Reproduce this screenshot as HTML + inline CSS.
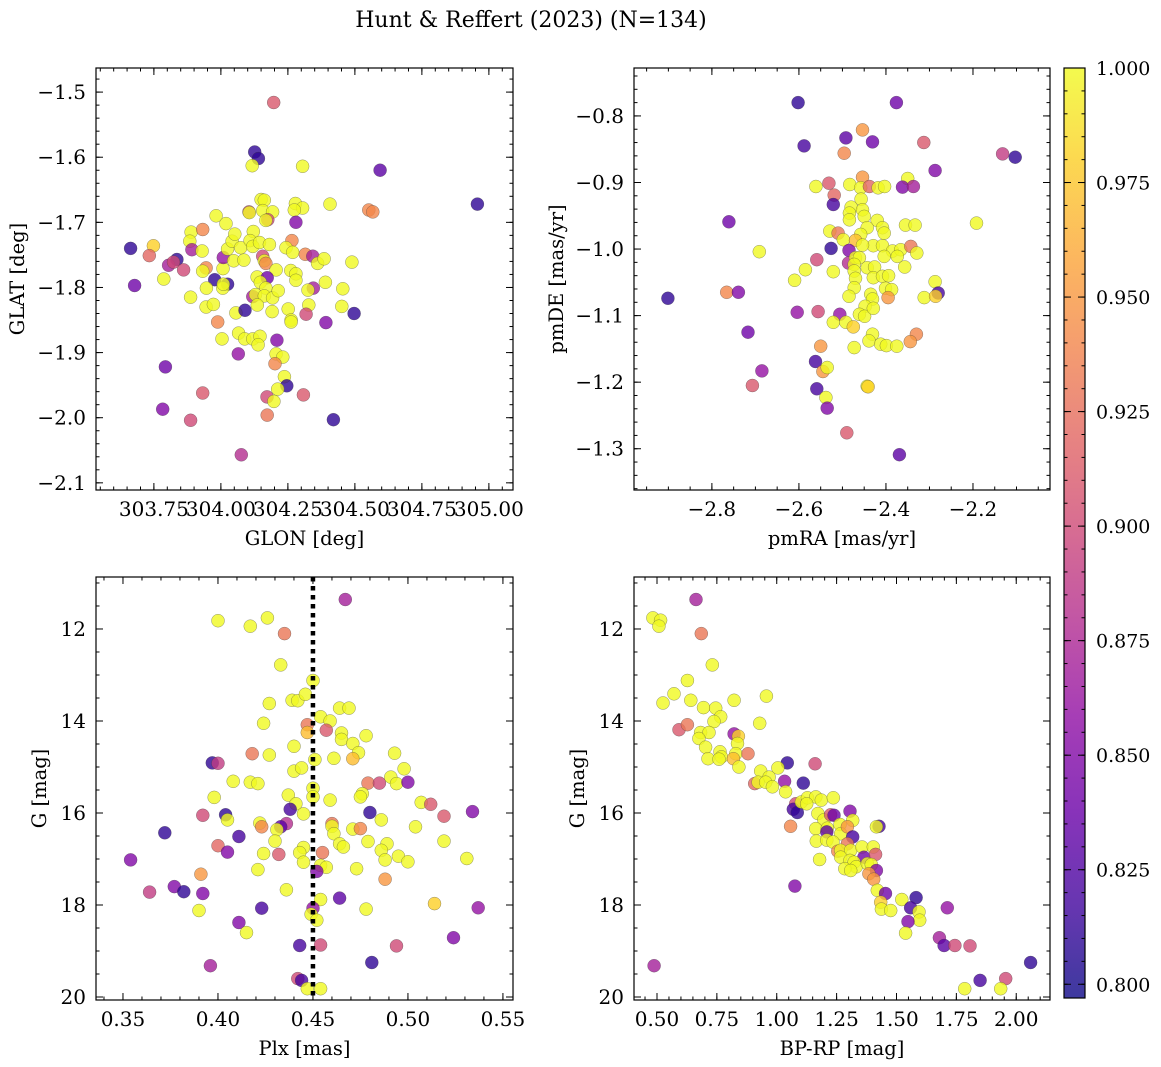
<!DOCTYPE html>
<html><head><meta charset="utf-8"><style>
html,body{margin:0;padding:0;background:#fff;}
svg{display:block;font-family:"DejaVu Serif","Liberation Serif",serif;}
</style></head><body>
<svg id="fig" width="1161" height="1067" viewBox="0 0 1161 1067" xmlns="http://www.w3.org/2000/svg">
<rect width="1161" height="1067" fill="#fff"/>
<text x="531" y="27" font-size="22" text-anchor="middle">Hunt &amp; Reffert (2023) (N=134)</text>
</svg>
<script>
// ---- Panel 1: GLON / GLAT ----
const p1Glon=[304.197,304.126,304.140,304.117,304.305,304.594,304.957,304.150,304.162,304.105,304.106,304.156,304.193,304.278,304.305,304.274,304.407,304.552,304.567,303.982,304.019,304.175,304.168,304.280,303.663,303.748,303.733,303.836,303.805,303.823,303.861,303.787,303.678,303.889,303.932,303.884,303.892,303.930,303.945,303.932,304.008,304.009,304.048,304.086,304.025,304.042,304.052,304.074,304.121,304.109,304.119,304.144,304.181,304.156,304.162,304.168,304.206,304.265,304.243,304.268,304.315,304.343,304.361,304.385,304.489,303.977,304.025,304.007,304.009,303.946,303.887,303.945,303.972,304.056,304.090,304.135,304.173,304.147,304.168,304.119,304.129,304.162,304.136,304.193,304.214,304.191,304.261,304.280,304.280,304.345,304.325,304.390,304.455,304.328,304.318,304.251,304.262,304.262,304.451,304.497,304.392,303.988,304.004,304.066,304.089,304.119,304.146,304.139,304.209,304.065,304.206,304.231,304.202,304.237,304.246,304.212,304.172,304.198,304.308,304.173,304.420,303.793,303.932,303.783,303.887,304.076];
const p1Glat=[-1.516,-1.592,-1.602,-1.613,-1.614,-1.620,-1.672,-1.665,-1.666,-1.684,-1.685,-1.682,-1.684,-1.671,-1.678,-1.681,-1.672,-1.681,-1.684,-1.690,-1.702,-1.696,-1.697,-1.700,-1.740,-1.736,-1.751,-1.757,-1.766,-1.761,-1.773,-1.787,-1.797,-1.715,-1.711,-1.729,-1.742,-1.744,-1.770,-1.775,-1.771,-1.754,-1.759,-1.758,-1.741,-1.729,-1.718,-1.739,-1.714,-1.728,-1.737,-1.731,-1.734,-1.752,-1.759,-1.763,-1.773,-1.728,-1.739,-1.746,-1.749,-1.752,-1.763,-1.756,-1.761,-1.788,-1.795,-1.801,-1.795,-1.801,-1.815,-1.830,-1.826,-1.839,-1.835,-1.784,-1.785,-1.792,-1.801,-1.814,-1.811,-1.813,-1.827,-1.816,-1.805,-1.837,-1.774,-1.779,-1.789,-1.801,-1.804,-1.792,-1.802,-1.827,-1.841,-1.833,-1.850,-1.853,-1.829,-1.840,-1.854,-1.853,-1.879,-1.870,-1.879,-1.879,-1.875,-1.888,-1.881,-1.902,-1.902,-1.907,-1.917,-1.937,-1.951,-1.956,-1.968,-1.975,-1.965,-1.996,-2.003,-1.922,-1.962,-1.987,-2.004,-2.057];
const p1Prob=[.91,.81,.81,1,1,.83,.81,1,1,.9,1,1,1,1,1,1,1,.94,.94,1,1,.9,1,.85,.81,.98,.92,.81,.87,.9,.9,1,.84,1,.94,1,.87,1,.94,1,1,.86,1,1,1,1,1,1,1,1,1,1,1,.9,1,.94,1,.94,1,1,.94,.87,1,1,1,.81,.81,1,1,1,1,1,1,1,.81,1,.84,1,1,.87,1,1,1,1,1,1,1,1,1,.87,1,1,1,1,.9,1,1,1,1,.81,.85,.94,1,1,1,1,1,1,.85,.86,1,1,.94,1,.81,1,.9,1,.91,.93,.81,.84,.91,.85,.9,.88];
const p1XTicks=[303.75,304.00,304.25,304.50,304.75,305.00];
const p1XTickLabels=["303.75","304.00","304.25","304.50","304.75","305.00"];
const p1YTicks=[-1.5,-1.6,-1.7,-1.8,-1.9,-2.0,-2.1];
const p1YTickLabels=["\u22121.5","\u22121.6","\u22121.7","\u22121.8","\u22121.9","\u22122.0","\u22122.1"];

// ---- Panel 2: pmRA / pmDE ----
const p2PmRA=[-2.602,-2.376,-2.454,-2.492,-2.431,-2.588,-2.496,-2.313,-2.132,-2.103,-2.287,-2.454,-2.350,-2.561,-2.531,-2.483,-2.458,-2.438,-2.418,-2.403,-2.362,-2.337,-2.519,-2.521,-2.457,-2.480,-2.484,-2.454,-2.484,-2.450,-2.420,-2.443,-2.408,-2.404,-2.355,-2.333,-2.192,-2.761,-2.529,-2.510,-2.458,-2.498,-2.470,-2.429,-2.454,-2.408,-2.526,-2.485,-2.385,-2.366,-2.343,-2.329,-2.691,-2.559,-2.486,-2.470,-2.461,-2.473,-2.443,-2.426,-2.404,-2.374,-2.357,-2.585,-2.521,-2.610,-2.473,-2.429,-2.408,-2.394,-2.470,-2.473,-2.401,-2.387,-2.395,-2.485,-2.435,-2.431,-2.287,-2.280,-2.312,-2.286,-2.901,-2.766,-2.739,-2.604,-2.556,-2.506,-2.448,-2.461,-2.449,-2.429,-2.521,-2.492,-2.475,-2.717,-2.431,-2.439,-2.412,-2.399,-2.375,-2.330,-2.344,-2.473,-2.550,-2.562,-2.545,-2.535,-2.685,-2.707,-2.559,-2.443,-2.441,-2.538,-2.535,-2.490,-2.369];
const p2PmDE=[-0.780,-0.780,-0.821,-0.833,-0.839,-0.845,-0.856,-0.840,-0.857,-0.862,-0.882,-0.892,-0.894,-0.906,-0.901,-0.903,-0.908,-0.906,-0.908,-0.906,-0.907,-0.906,-0.919,-0.933,-0.925,-0.937,-0.946,-0.941,-0.956,-0.951,-0.957,-0.968,-0.968,-0.976,-0.964,-0.964,-0.961,-0.959,-0.973,-0.976,-0.978,-0.986,-0.987,-0.995,-0.994,-0.995,-0.999,-1.002,-1.003,-1.001,-0.996,-1.006,-1.004,-1.016,-1.021,-1.013,-1.013,-1.023,-1.028,-1.027,-1.011,-1.011,-1.027,-1.031,-1.034,-1.047,-1.033,-1.043,-1.041,-1.040,-1.044,-1.058,-1.059,-1.061,-1.073,-1.071,-1.068,-1.075,-1.049,-1.066,-1.073,-1.071,-1.074,-1.065,-1.065,-1.095,-1.094,-1.098,-1.086,-1.098,-1.101,-1.089,-1.110,-1.110,-1.117,-1.125,-1.128,-1.138,-1.143,-1.145,-1.146,-1.128,-1.139,-1.148,-1.146,-1.169,-1.184,-1.178,-1.183,-1.205,-1.210,-1.206,-1.207,-1.223,-1.239,-1.276,-1.309];
const p2Prob=[.81,.84,.95,.83,.84,.82,.94,.91,.89,.81,.85,.95,1,1,.91,1,1,.92,1,1,.85,.87,.92,.82,1,1,1,1,1,1,1,1,1,1,1,1,1,.84,1,.93,1,1,.97,1,1,1,.81,.85,1,1,.93,1,1,.9,.88,1,1,1,1,1,1,1,1,1,1,1,1,1,1,1,1,1,1,1,.95,1,1,1,1,.82,1,.98,.81,.94,.85,.86,.9,.86,1,1,1,1,1,1,.98,.84,1,1,1,1,1,.94,.95,1,.95,.82,.95,1,.86,.91,.82,1,.98,1,.85,.91,.83];
const p2XTicks=[-2.8,-2.6,-2.4,-2.2];
const p2XTickLabels=["\u22122.8","\u22122.6","\u22122.4","\u22122.2"];
const p2YTicks=[-0.8,-0.9,-1.0,-1.1,-1.2,-1.3];
const p2YTickLabels=["\u22120.8","\u22120.9","\u22121.0","\u22121.1","\u22121.2","\u22121.3"];

// ---- Panel 3: Plx / G ----
const p3Plx=[0.467,0.400,0.417,0.426,0.435,0.433,0.450,0.439,0.442,0.446,0.427,0.464,0.469,0.454,0.459,0.424,0.447,0.457,0.447,0.465,0.465,0.471,0.478,0.474,0.440,0.427,0.418,0.461,0.471,0.451,0.493,0.397,0.400,0.440,0.444,0.498,0.408,0.417,0.421,0.479,0.485,0.491,0.494,0.500,0.398,0.437,0.450,0.450,0.441,0.459,0.476,0.475,0.507,0.512,0.438,0.445,0.480,0.486,0.392,0.404,0.405,0.422,0.423,0.436,0.433,0.431,0.460,0.460,0.461,0.471,0.475,0.504,0.519,0.534,0.372,0.411,0.430,0.445,0.443,0.464,0.466,0.479,0.489,0.486,0.488,0.495,0.500,0.519,0.531,0.400,0.405,0.424,0.432,0.455,0.445,0.454,0.457,0.473,0.452,0.421,0.354,0.391,0.488,0.364,0.377,0.382,0.392,0.436,0.454,0.464,0.514,0.537,0.423,0.390,0.450,0.449,0.452,0.478,0.411,0.415,0.524,0.443,0.454,0.494,0.481,0.396,0.442,0.444,0.447,0.454];
const p3G=[11.36,11.82,11.94,11.76,12.10,12.78,13.12,13.55,13.56,13.42,13.62,13.72,13.72,13.91,14.00,14.05,14.08,14.20,14.25,14.26,14.40,14.49,14.32,14.69,14.55,14.74,14.71,14.81,14.82,14.84,14.70,14.91,14.92,15.09,15.02,15.04,15.31,15.33,15.36,15.35,15.35,15.22,15.36,15.33,15.66,15.61,15.46,15.65,15.80,15.72,15.58,15.65,15.77,15.81,15.92,16.02,15.99,16.15,16.05,16.04,16.15,16.22,16.30,16.23,16.30,16.36,16.23,16.29,16.45,16.35,16.34,16.30,16.07,15.97,16.43,16.51,16.61,16.75,16.86,16.67,16.74,16.62,16.67,16.81,17.02,16.94,17.06,16.61,16.99,16.71,16.85,16.88,16.90,16.86,17.07,17.14,17.18,17.21,17.27,17.23,17.02,17.33,17.44,17.72,17.60,17.71,17.75,17.67,17.88,17.85,17.97,18.06,18.07,18.12,18.07,18.20,18.33,18.09,18.38,18.60,18.71,18.88,18.87,18.89,19.25,19.32,19.60,19.64,19.82,19.82];
const p3Prob=[.87,1,1,1,.93,1,1,1,1,1,1,1,1,1,1,1,.93,.91,.97,1,1,1,1,1,1,1,.93,1,.97,1,1,.81,.89,1,1,1,1,1,1,.93,.9,1,1,.85,1,1,1,1,1,1,1,1,1,.91,.82,1,.81,1,.9,.81,1,1,.94,.88,.83,1,.93,1,1,1,.94,1,.91,.85,.81,.82,1,1,1,1,1,1,1,1,1,1,1,1,1,.92,.85,1,.91,.93,1,1,1,1,.85,1,.85,.95,.95,.89,.85,.81,.85,1,1,.83,.98,.86,.82,1,.86,1,1,1,.85,1,.85,.82,.9,.9,.81,.87,.9,.82,1,1];
const p3XTicks=[0.35,0.40,0.45,0.50,0.55];
const p3XTickLabels=["0.35","0.40","0.45","0.50","0.55"];
const p3YTicks=[12,14,16,18,20];
const p3YTickLabels=["12","14","16","18","20"];
const p3RefPlx=0.45;

// ---- Panel 4: BP-RP / G ----
const p4BpRp=[0.663,0.483,0.515,0.508,0.685,0.731,0.627,0.571,0.525,0.641,0.694,0.745,0.766,0.738,0.822,0.957,0.929,0.592,0.627,0.682,0.717,0.675,0.703,0.713,0.763,0.769,0.759,0.822,0.840,0.836,0.829,0.819,0.842,0.880,1.044,1.160,0.933,1.005,0.908,0.968,1.033,1.111,0.922,0.954,0.982,1.037,1.079,1.069,1.086,1.058,1.103,1.128,1.163,1.125,1.186,1.236,1.172,1.197,1.225,1.239,1.306,1.317,1.163,1.211,1.209,1.264,1.267,1.295,1.317,1.165,1.209,1.235,1.427,1.416,1.255,1.295,1.267,1.309,1.356,1.403,1.364,1.413,1.267,1.306,1.179,1.323,1.332,1.284,1.309,1.378,1.395,1.416,1.385,1.405,1.076,1.420,1.454,1.434,1.437,1.476,1.522,1.582,1.559,1.594,1.597,1.548,1.538,1.712,1.679,1.699,1.744,1.807,0.488,2.060,1.849,1.956,1.785,1.935];
const p4G=[11.36,11.76,11.81,11.94,12.10,12.78,13.12,13.41,13.61,13.55,13.71,13.72,13.91,14.01,13.55,13.46,14.05,14.19,14.08,14.25,14.25,14.38,14.57,14.82,14.67,14.78,14.83,14.28,14.33,14.49,14.71,14.82,15.00,14.71,14.91,14.93,15.09,15.02,15.36,15.22,15.31,15.35,15.33,15.33,15.43,15.54,15.80,15.92,15.99,16.29,15.76,15.67,15.65,15.80,15.72,15.67,16.01,16.15,16.04,16.05,15.96,16.16,16.34,16.33,16.41,16.25,16.45,16.30,16.52,16.61,16.59,16.63,16.29,16.30,16.83,16.67,16.81,16.81,16.74,16.74,16.96,16.90,16.96,17.03,17.01,17.07,17.17,17.21,17.25,17.10,17.12,17.25,17.32,17.44,17.59,17.68,17.75,17.94,18.09,18.12,17.88,17.84,18.06,18.15,18.33,18.36,18.61,18.06,18.71,18.88,18.88,18.89,19.32,19.25,19.64,19.60,19.82,19.82];
const p4Prob=[.87,1,1,1,.93,1,1,1,1,1,1,1,1,1,1,1,1,.91,.93,1,1,1,1,1,1,1,1,.86,.98,1,1,.97,1,.93,.81,.9,1,1,.92,1,.86,.81,1,1,1,1,.9,.82,.81,.94,1,1,1,1,1,1,1,1,.91,.84,.85,1,1,1,.83,1,1,.95,.82,1,1,1,.82,1,.94,.93,1,1,1,1,.84,.91,1,1,1,1,1,1,1,1,1,.85,.95,.95,.85,1,.84,.98,1,1,1,.81,.82,1,1,.85,1,.86,.87,.83,.9,.9,.87,.81,.82,.9,1,1];
const p4XTicks=[0.50,0.75,1.00,1.25,1.50,1.75,2.00];
const p4XTickLabels=["0.50","0.75","1.00","1.25","1.50","1.75","2.00"];
const p4YTicks=[12,14,16,18,20];
const p4YTickLabels=["12","14","16","18","20"];

// ---- Colorbar ----
const cbTicks=[1.000,0.975,0.950,0.925,0.900,0.875,0.850,0.825,0.800];
const cbTickLabels=["1.000","0.975","0.950","0.925","0.900","0.875","0.850","0.825","0.800"];
const cbMin=0.797, cbMax=1.0;

const NS="http://www.w3.org/2000/svg";
const svg=document.getElementById('fig');
const FS=20;
function mk(tag,attrs,parent){const e=document.createElementNS(NS,tag);for(const k in attrs)e.setAttribute(k,attrs[k]);(parent||svg).appendChild(e);return e;}

const plasma=[[13,8,135],[65,4,157],[106,0,168],[143,13,164],[177,42,144],[204,71,120],[225,100,98],[242,132,75],[252,166,54],[252,206,37],[240,249,33]];
function cmap(p){let t=(p-cbMin)/(cbMax-cbMin);t=Math.max(0,Math.min(1,t))*10;const i=Math.min(9,Math.floor(t)),f=t-i;const a=plasma[i],b=plasma[i+1];return 'rgb('+[0,1,2].map(k=>Math.round(a[k]+(b[k]-a[k])*f)).join(',')+')';}

function lin(d0,d1,r0,r1){return v=>r0+(v-d0)/(d1-d0)*(r1-r0);}

function panel(o){
  const g=mk('g',{});
  
  
  const sx=lin(o.xd[0],o.xd[1],o.x0,o.x1), sy=lin(o.yd[0],o.yd[1],o.y0,o.y1);
  const clipId=o.name+'-clip';
  const cp=mk('clipPath',{id:clipId},g);mk('rect',{x:o.x0,y:o.y0,width:o.x1-o.x0,height:o.y1-o.y0},cp);
  const pts=mk('g',{'clip-path':'url(#'+clipId+')'},g);
  
  
  for(let i=0;i<o.xs.length;i++){
    const c=mk('circle',{cx:sx(o.xs[i]).toFixed(1),cy:sy(o.ys[i]).toFixed(1),r:6.5,fill:cmap(o.ps[i]),'fill-opacity':0.8,stroke:'rgba(60,60,60,0.55)','stroke-width':0.5},pts);
    
    
  }
  if(o.vline!==undefined){
    const l=mk('line',{x1:sx(o.vline),x2:sx(o.vline),y1:o.y0,y2:o.y1,stroke:'#000','stroke-width':4.5,'stroke-dasharray':'4.5 4.5'},g);
    
    
  }
  const tk=mk('g',{stroke:'#000','stroke-width':1},g);
  
  
  const lo=Math.min(o.xd[0],o.xd[1]),hi=Math.max(o.xd[0],o.xd[1]);
  for(let v=Math.ceil(lo/o.xminor)*o.xminor;v<=hi;v+=o.xminor){const x=sx(v);mk('line',{x1:x,x2:x,y1:o.y1,y2:o.y1-3.5},tk);mk('line',{x1:x,x2:x,y1:o.y0,y2:o.y0+3.5},tk);}
  const ylo=Math.min(o.yd[0],o.yd[1]),yhi=Math.max(o.yd[0],o.yd[1]);
  for(let v=Math.ceil(ylo/o.yminor-1e-6)*o.yminor;v<=yhi;v+=o.yminor){const y=sy(v);mk('line',{x1:o.x0,x2:o.x0+3.5,y1:y,y2:y},tk);mk('line',{x1:o.x1,x2:o.x1-3.5,y1:y,y2:y},tk);}
  o.xt.forEach((v,i)=>{const x=sx(v);mk('line',{x1:x,x2:x,y1:o.y1,y2:o.y1-7},tk);mk('line',{x1:x,x2:x,y1:o.y0,y2:o.y0+7},tk);
    const t=mk('text',{x:x,y:o.y1+26,'font-size':FS,'text-anchor':'middle',stroke:'none'},g);t.textContent=o.xtl[i];
    });
  o.yt.forEach((v,i)=>{const y=sy(v);mk('line',{x1:o.x0,x2:o.x0+7,y1:y,y2:y},tk);mk('line',{x1:o.x1,x2:o.x1-7,y1:y,y2:y},tk);
    const t=mk('text',{x:o.x0-10,y:y+7,'font-size':FS,'text-anchor':'end'},g);t.textContent=o.ytl[i];
    });
  const fr=mk('rect',{x:o.x0,y:o.y0,width:o.x1-o.x0,height:o.y1-o.y0,fill:'none',stroke:'#000','stroke-width':1.2},g);
  
  const xl=mk('text',{x:(o.x0+o.x1)/2,y:o.y1+55,'font-size':19.5,'text-anchor':'middle'},g);xl.textContent=o.xlabel;
  
  const yx=o.ylabx, yc=(o.y0+o.y1)/2;
  const yl=mk('text',{x:yx,y:yc,'font-size':19.5,'text-anchor':'middle',transform:'rotate(-90 '+yx+' '+yc+')'},g);yl.textContent=o.ylabel;
  
}

panel({name:'glon-glat-panel',xs:p1Glon,ys:p1Glat,ps:p1Prob,x0:96,x1:513,y0:68,y1:490,xd:[303.534,305.090],yd:[-1.463,-2.111],xt:p1XTicks,xtl:p1XTickLabels,yt:p1YTicks,ytl:p1YTickLabels,xminor:0.05,yminor:0.02,xlabel:'GLON [deg]',ylabel:'GLAT [deg]',ylabx:24});
panel({name:'proper-motion-panel',xs:p2PmRA,ys:p2PmDE,ps:p2Prob,x0:634,x1:1050,y0:68,y1:490,xd:[-2.979,-2.023],yd:[-0.728,-1.362],xt:p2XTicks,xtl:p2XTickLabels,yt:p2YTicks,ytl:p2YTickLabels,xminor:0.05,yminor:0.02,xlabel:'pmRA [mas/yr]',ylabel:'pmDE [mas/yr]',ylabx:563});
panel({name:'parallax-g-panel',xs:p3Plx,ys:p3G,ps:p3Prob,x0:96,x1:513,y0:577,y1:1000,xd:[0.3358,0.5553],yd:[10.870,20.065],xt:p3XTicks,xtl:p3XTickLabels,yt:p3YTicks,ytl:p3YTickLabels,xminor:0.01,yminor:0.5,xlabel:'Plx [mas]',ylabel:'G [mag]',ylabx:46,vline:p3RefPlx});
panel({name:'cmd-panel',xs:p4BpRp,ys:p4G,ps:p4Prob,x0:634,x1:1050,y0:577,y1:1000,xd:[0.404,2.141],yd:[10.870,20.065],xt:p4XTicks,xtl:p4XTickLabels,yt:p4YTicks,ytl:p4YTickLabels,xminor:0.05,yminor:0.5,xlabel:'BP-RP [mag]',ylabel:'G [mag]',ylabx:584});

(function(){
  const x0=1064,x1=1085,y0=68,y1=998;
  const g=mk('g',{});
  
  
  const sy=lin(cbMin,cbMax,y1,y0);
  const defs=mk('defs',{},g);
  const lg=mk('linearGradient',{id:'cbgrad',x1:0,y1:1,x2:0,y2:0},defs);
  for(let i=0;i<=20;i++){const p=cbMin+(cbMax-cbMin)*i/20;mk('stop',{offset:i/20,'stop-color':cmap(p),'stop-opacity':0.8},lg);}
  mk('rect',{x:x0,y:y0,width:x1-x0,height:y1-y0,fill:'url(#cbgrad)',stroke:'#000','stroke-width':1.2},g);
  for(let v=0.800;v<=1.0001;v+=0.005){const y=sy(v);mk('line',{x1:x1,x2:x1-3.5,y1:y,y2:y,stroke:'#000'},g);mk('line',{x1:x0,x2:x0+3.5,y1:y,y2:y,stroke:'#000'},g);}
  cbTicks.forEach((v,i)=>{const y=sy(v);mk('line',{x1:x1,x2:x1-7,y1:y,y2:y,stroke:'#000'},g);mk('line',{x1:x0,x2:x0+7,y1:y,y2:y,stroke:'#000'},g);
    const t=mk('text',{x:x1+11,y:y+7,'font-size':19},g);t.textContent=cbTickLabels[i];
    });
})();
</script>
</body></html>
